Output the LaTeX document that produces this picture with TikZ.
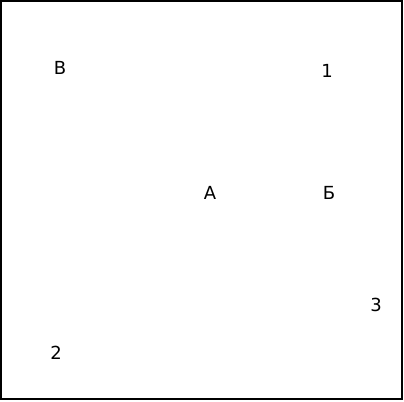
\documentclass[tikz,border=0pt]{standalone}
\usepackage{fontspec}
\setmainfont{DejaVu Sans}
\begin{document}
\begin{tikzpicture}[x=0.75pt,y=-0.75pt]
    \tikzset{lbl/.style={inner sep=0pt, font=\fontsize{13.5}{15}\selectfont}}
    \useasboundingbox (0,0) rectangle (404,401);
    \draw[line width=1.5pt] (1,1) rectangle (402,399);

    \node[lbl] (v) at (60,68) {В};
    \node[lbl] (one) at (327,71) {1};
    \node[lbl] (a) at (210,193) {А};
    \node[lbl] (b) at (329,193) {Б};
    \node[lbl] (three) at (376,305) {3};
    \node[lbl] (two) at (56,353) {2};
  \end{tikzpicture}
\end{document}
